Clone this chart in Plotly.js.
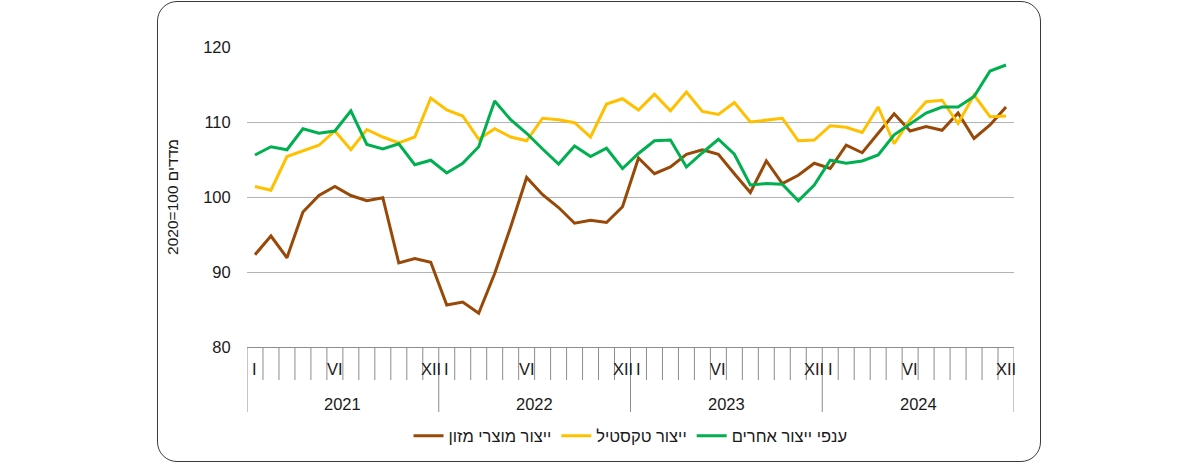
<!DOCTYPE html>
<html>
<head>
<meta charset="utf-8">
<script src="https://cdn.plot.ly/plotly-3.0.1.min.js"></script>
<style>
  html, body { margin: 0; padding: 0; background: #ffffff; }
  #wrap { position: relative; width: 1200px; height: 465px; }
  #frame { position: absolute; left: 157px; top: 1px; width: 884px; height: 461px;
           border: 1.3px solid #3a3a3a; border-radius: 20px; box-sizing: border-box; z-index: 0; }
  #chart { position: absolute; left: 0; top: 0; width: 1200px; height: 465px; z-index: 1; }
</style>
</head>
<body>
<div id="wrap">
  <div id="frame"></div>
  <div id="chart"></div>
</div>
<script>
// ---- data ----
const years = ['2021', '2022', '2023', '2024'];
const monthNames = ['I', '', '', '', '', 'VI', '', '', '', '', '', 'XII'];

const foodSeriesName = 'ייצור מוצרי מזון';
const textileSeriesName = 'ייצור טקסטיל';
const otherSeriesName = 'ענפי ייצור אחרים';

const foodValues = [92.3, 94.8, 91.9, 98.0, 100.2, 101.4, 100.2, 99.5, 99.9, 91.2, 91.8, 91.3,
  85.6, 86.0, 84.5, 89.8, 96.0, 102.6, 100.3, 98.6, 96.5, 96.9, 96.6, 98.7,
  105.2, 103.1, 104.0, 105.7, 106.3, 105.7, 103.1, 100.6, 104.8, 101.8, 102.9, 104.5,
  103.8, 106.9, 105.9, 108.5, 111.1, 108.8, 109.4, 108.9, 111.2, 107.8, 109.6, 112.0];

const textileValues = [101.4, 100.9, 105.4, 106.2, 106.9, 108.8, 106.3, 109.0, 108.0, 107.2, 108.0, 113.2,
  111.6, 110.8, 107.7, 109.1, 108.0, 107.5, 110.5, 110.3, 109.9, 108.0, 112.4, 113.1,
  111.6, 113.7, 111.5, 114.0, 111.4, 111.0, 112.6, 110.0, 110.3, 110.5, 107.5, 107.6,
  109.5, 109.3, 108.6, 112.0, 107.1, 110.3, 112.7, 112.9, 109.8, 113.6, 110.7, 110.8];

const otherValues = [105.6, 106.7, 106.3, 109.1, 108.5, 108.8, 111.5, 107.0, 106.4, 107.1, 104.3, 104.9,
  103.2, 104.5, 106.7, 112.8, 110.3, 108.5, 106.4, 104.4, 106.8, 105.4, 106.5, 103.8,
  105.8, 107.5, 107.6, 104.0, 105.9, 107.7, 105.7, 101.6, 101.8, 101.7, 99.5, 101.6,
  104.9, 104.5, 104.8, 105.6, 108.3, 109.8, 111.2, 112.0, 112.0, 113.4, 116.8, 117.6];

const yTickValues = [80, 90, 100, 110, 120];
const yTitleText = '2020=100 מדדים';

// ---- build ----
const nMonths = years.length * monthNames.length;
const xIdx = [];
for (let i = 0; i < nMonths; i++) xIdx.push(i);

const FONT = 'Liberation Sans, Arial, sans-serif';
const axisGray = '#8c8c8c';
const FS = 16.5;

function lineTrace(name, values, color) {
  return { type: 'scatter', mode: 'lines', name: name, x: xIdx, y: values,
           line: { color: color, width: 3 }, hoverinfo: 'x+y' };
}

const traces = [
  lineTrace(foodSeriesName, foodValues, '#984807'),
  lineTrace(textileSeriesName, textileValues, '#FFC000'),
  lineTrace(otherSeriesName, otherValues, '#00B050')
];

const plotH = 300;
const shapes = [];
const annotations = [];
// month separators
for (let i = 0; i <= nMonths; i++) {
  const isYear = (i % monthNames.length === 0);
  shapes.push({ type: 'line', xref: 'x', yref: 'paper', x0: i - 0.5, x1: i - 0.5,
                y0: 0, y1: isYear ? -65 / plotH : -33 / plotH,
                line: { color: axisGray, width: 1 } });
}
// month labels
years.forEach((yr, k) => {
  monthNames.forEach((m, j) => {
    if (m) {
      annotations.push({ xref: 'x', yref: 'paper', x: k * monthNames.length + j, y: -22 / plotH,
                         text: m, showarrow: false, yanchor: 'middle', xanchor: 'center',
                         font: { family: FONT, size: FS, color: '#1a1a1a' } });
    }
  });
  annotations.push({ xref: 'x', yref: 'paper', x: k * monthNames.length + (monthNames.length - 1) / 2,
                     y: -57 / plotH, text: yr, showarrow: false, yanchor: 'middle', xanchor: 'center',
                     font: { family: FONT, size: FS, color: '#1a1a1a' } });
});

const layout = {
  width: 1200, height: 465,
  margin: { l: 247, r: 186, t: 47, b: 118, pad: 0 },
  paper_bgcolor: 'rgba(0,0,0,0)',
  plot_bgcolor: 'rgba(0,0,0,0)',
  font: { family: FONT, size: FS, color: '#1a1a1a' },
  showlegend: true,
  legend: { orientation: 'h', x: 0.5, xanchor: 'center', y: -89 / plotH, yanchor: 'middle',
            font: { family: FONT, size: FS, color: '#1a1a1a' }, itemwidth: 30, tracegroupgap: 0,
            bgcolor: 'rgba(0,0,0,0)' },
  xaxis: { range: [-0.5, nMonths - 0.5], showgrid: false, zeroline: false,
           showticklabels: false, ticks: '', showline: true, linecolor: axisGray, linewidth: 1,
           fixedrange: true },
  yaxis: { range: [80, 120], tickvals: yTickValues, showgrid: true, gridcolor: '#b3b3b3', gridwidth: 1,
           zeroline: false, showline: false, ticks: 'outside', ticklen: 12, tickcolor: 'rgba(0,0,0,0)',
           tickfont: { family: FONT, size: FS, color: '#1a1a1a' },
           title: { text: yTitleText, standoff: 20, font: { family: FONT, size: 15.5, color: '#1a1a1a' } },
           fixedrange: true },
  shapes: shapes,
  annotations: annotations
};

Plotly.newPlot('chart', traces, layout, { displayModeBar: false, staticPlot: true });
</script>
</body>
</html>
